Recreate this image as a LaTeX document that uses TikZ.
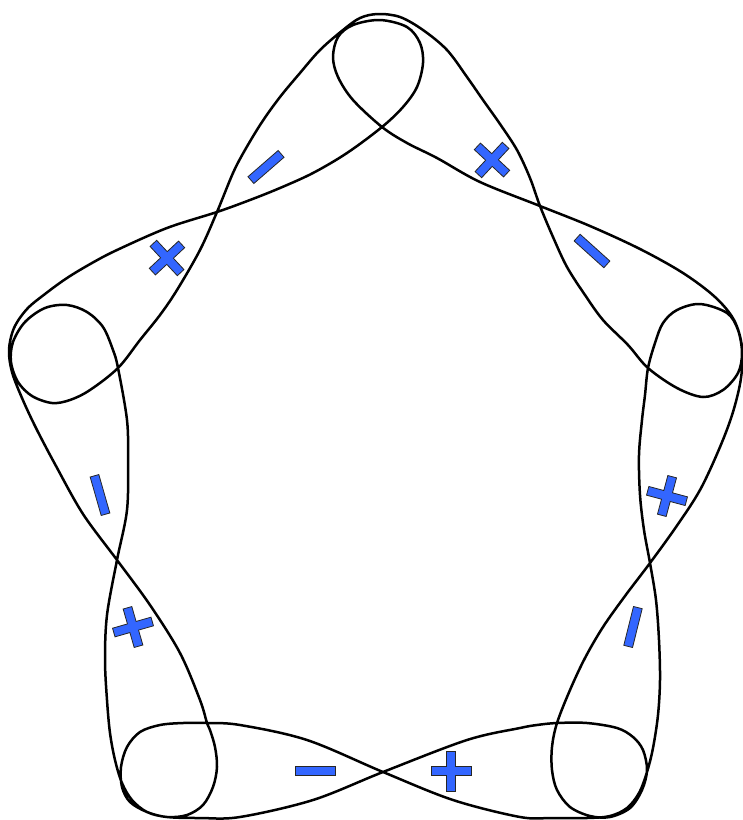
\documentclass[tikz,border=0pt]{standalone}
\definecolor{signblue}{RGB}{51,102,255}
\begin{document}
\begin{tikzpicture}[x=1pt,y=-1pt,
  curve/.style={line width=2.5pt, line join=round},
  signfill/.style={fill=signblue, draw=black!85, line width=0.8pt},
  plussign/.pic={\path[signfill] (-20,-4.5) -- (-4.5,-4.5) -- (-4.5,-20) -- (4.5,-20) -- (4.5,-4.5) -- (20,-4.5) -- (20,4.5) -- (4.5,4.5) -- (4.5,20) -- (-4.5,20) -- (-4.5,4.5) -- (-20,4.5) -- cycle;},
  minussign/.pic={\path[signfill] (-20,-4.5) rectangle (20,4.5);}
]
\useasboundingbox (0,0) rectangle (743,820);
\draw[curve] plot[smooth cycle, tension=0.55] coordinates {
 (280,188) (313,173) (347,153) (382,127) (403,107) (417,87) (423,63) (420,43) (407,27) (380,20) (353,25) (338,37) (333,57) (338,77) (353,100) (382,127) (407,143) (437,158) (480,182)
 (540,206) (590,226) (640,249) (683,273) (715,297) (734,320) (742,347) (741,378) (733,412) (720,447) (700,490) (676,527) (650,563) (625,596) (603,627) (585,658) (570,690)
 (557,723) (552,747) (552,770) (557,790) (570,807) (590,816) (610,817) (630,808) (642,790) (647,770) (643,750) (633,737) (617,728) (587,723) (557,723) (537,725) (520,728)
 (467,740) (383,772) (313,800) (240,817)
 (200,818) (167,817) (147,812) (132,800) (122,783) (115,760) (110,733) (107,700)
 (105,660) (107,615) (117,560) (127,510) (128,460) (127,420)
 (118,368) (113,350) (103,327) (87,312) (67,305) (45,308) (25,322) (13,342) (11,362) (18,382) (32,396) (52,403) (70,400) (90,390) (118,368) (140,340)
 (160,315) (177,290) (200,250) (217,212) (233,173) (245,150) (262,122) (280,97)
 (300,73) (320,50) (343,30) (360,18) (378,14) (400,17) (423,30) (447,50) (467,77) (483,100)
 (500,124) (517,150) (530,178) (540,206) (553,237) (567,267) (585,295) (603,320) (628,345)
 (648,368) (677,388) (703,397) (723,390) (738,373) (742,353) (738,330) (727,313) (700,304) (677,310) (663,323) (655,343) (648,368) (645,395) (642,420)
 (639,455) (640,495) (644,530) (650,563) (656,600) (659,640) (660,680) (658,715) (653,748) (647,772) (639,793) (627,808) (610,816) (587,818) (552,818) (520,817)
 (453,800) (383,772) (307,740) (240,725)
 (207,723) (183,723) (160,725) (140,732) (127,747) (121,767) (122,787) (130,802) (147,812) (167,817) (187,815) (203,805) (213,787) (217,767) (215,747) (210,730) (207,723) (200,700)
 (180,653) (150,605) (117,560) (83,514) (56,466) (36,428) (22,398) (12,372) (9,350) (14,328) (27,309) (45,294) (67,278) (92,263) (117,250) (167,228) (217,212) (250,200)
};
\pic[rotate=41] at (266,167) {minussign};
\pic[rotate=43] at (167,258) {plussign};
\pic[rotate=-43] at (492,160) {plussign};
\pic[rotate=-42] at (592,251) {minussign};
\pic[rotate=-15] at (667,496) {plussign};
\pic[rotate=76] at (633,627) {minussign};
\pic at (451,771) {plussign};
\pic at (315,771) {minussign};
\pic[rotate=16] at (133,627) {plussign};
\pic[rotate=106] at (100,495) {minussign};
\end{tikzpicture}
\end{document}
